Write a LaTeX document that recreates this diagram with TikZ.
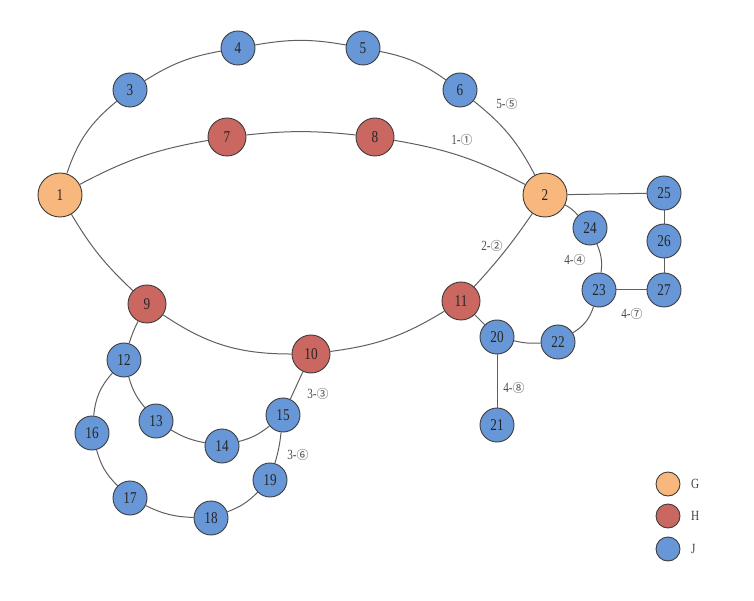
\documentclass[tikz,border=0pt]{standalone}
\usepackage{fontspec}
\setmainfont{Liberation Serif}
\newfontfamily\numfont[FakeStretch=0.8]{Liberation Serif}
\newfontfamily\cjk{Noto Sans CJK SC}
\definecolor{orangeC}{RGB}{248,183,125}
\definecolor{redC}{RGB}{201,103,96}
\definecolor{blueC}{RGB}{104,151,216}
\definecolor{edgeC}{RGB}{95,95,95}
\definecolor{rimC}{RGB}{60,60,60}
\begin{document}
\begin{tikzpicture}[x=1pt,y=1pt,
  vtx/.style={circle, draw=rimC, line width=0.9pt, inner sep=0pt, font=\numfont\fontsize{16.5}{16.5}\selectfont, text=black!85},
  gnode/.style={vtx, fill=orangeC, minimum size=44pt},
  hnode/.style={vtx, fill=redC, minimum size=38pt},
  jnode/.style={vtx, fill=blueC, minimum size=34pt},
  legnode/.style={circle, draw=rimC, line width=0.9pt, inner sep=0pt, minimum size=24pt},
  link/.style={draw=edgeC, line width=1pt},
  lab/.style={font=\numfont\fontsize{14}{14}\selectfont, text=black!70, inner sep=1pt},
  legtext/.style={font=\numfont\fontsize{14}{14}\selectfont, text=black!75, anchor=west, inner sep=0pt}
]
\useasboundingbox (0,0) rectangle (754,600);
% nodes
\node[gnode] (n1) at (60,405) {1};
\node[gnode] (n2) at (545,405) {2};
\node[jnode] (n3) at (130,510) {3};
\node[jnode] (n4) at (238,552) {4};
\node[jnode] (n5) at (363,552) {5};
\node[jnode] (n6) at (460,510) {6};
\node[hnode] (n7) at (227,463) {7};
\node[hnode] (n8) at (375,463) {8};
\node[hnode] (n9) at (147,296) {9};
\node[hnode] (n10) at (311,246) {10};
\node[hnode] (n11) at (461,299) {11};
\node[jnode] (n12) at (124,240) {12};
\node[jnode] (n13) at (156,179) {13};
\node[jnode] (n14) at (222,154) {14};
\node[jnode] (n15) at (283,185) {15};
\node[jnode] (n16) at (92,167) {16};
\node[jnode] (n17) at (130,102) {17};
\node[jnode] (n18) at (211,82) {18};
\node[jnode] (n19) at (270,120) {19};
\node[jnode] (n20) at (497,263) {20};
\node[jnode] (n21) at (497,175) {21};
\node[jnode] (n22) at (558,258) {22};
\node[jnode] (n23) at (599,310) {23};
\node[jnode] (n24) at (590,372) {24};
\node[jnode] (n25) at (664,407) {25};
\node[jnode] (n26) at (664,359) {26};
\node[jnode] (n27) at (664,310) {27};
% edges
\path[link]
  (n1) edge[bend left=16] (n3)
  (n3) edge[bend left=11] (n4)
  (n4) edge[bend left=10] (n5)
  (n5) edge[bend left=12] (n6)
  (n6) edge[bend left=12] (n2)
  (n1) edge[bend left=9] (n7)
  (n7) edge[bend left=6] (n8)
  (n8) edge[bend left=9] (n2)
  (n1) edge[bend right=8] (n9)
  (n9) edge[bend right=17] (n10)
  (n10) edge[bend right=12] (n11)
  (n11) edge[bend right=4] (n2)
  (n9) edge[bend right=5] (n12)
  (n12) edge[bend right=18] (n16)
  (n16) edge[bend right=15] (n17)
  (n17) edge[bend right=12] (n18)
  (n18) edge[bend right=12] (n19)
  (n19) edge[bend right=5] (n15)
  (n15) edge (n10)
  (n12) edge[bend right=12] (n13)
  (n13) edge[bend right=10] (n14)
  (n14) edge[bend right=12] (n15)
  (n11) edge (n20)
  (n20) edge (n21)
  (n20) edge[bend right=8] (n22)
  (n22) edge[bend right=20] (n23)
  (n23) edge[bend right=15] (n24)
  (n24) edge[bend right=10] (n2)
  (n2) edge (n25)
  (n25) edge (n26)
  (n26) edge (n27)
  (n27) edge (n23);
% edge labels
\node[lab] (l1) at (507,496) {5-{\cjk\fontsize{12}{12}\selectfont ⑤}};
\node[lab] (l2) at (462,460) {1-{\cjk\fontsize{12}{12}\selectfont ①}};
\node[lab] (l3) at (492,354) {2-{\cjk\fontsize{12}{12}\selectfont ②}};
\node[lab] (l4) at (575,340) {4-{\cjk\fontsize{12}{12}\selectfont ④}};
\node[lab] (l5) at (632,286) {4-{\cjk\fontsize{12}{12}\selectfont ⑦}};
\node[lab] (l6) at (318,206) {3-{\cjk\fontsize{12}{12}\selectfont ③}};
\node[lab] (l7) at (298,145) {3-{\cjk\fontsize{12}{12}\selectfont ⑥}};
\node[lab] (l8) at (514,212) {4-{\cjk\fontsize{12}{12}\selectfont ⑧}};
% legend
\node[legnode, fill=orangeC] (lg) at (668,116) {};
\node[legnode, fill=redC] (lh) at (668,84) {};
\node[legnode, fill=blueC] (lj) at (668,51) {};
\node[legtext] (tg) at (691,116) {G};
\node[legtext] (th) at (691,84) {H};
\node[legtext] (tj) at (691,51) {J};
\end{tikzpicture}
\end{document}
